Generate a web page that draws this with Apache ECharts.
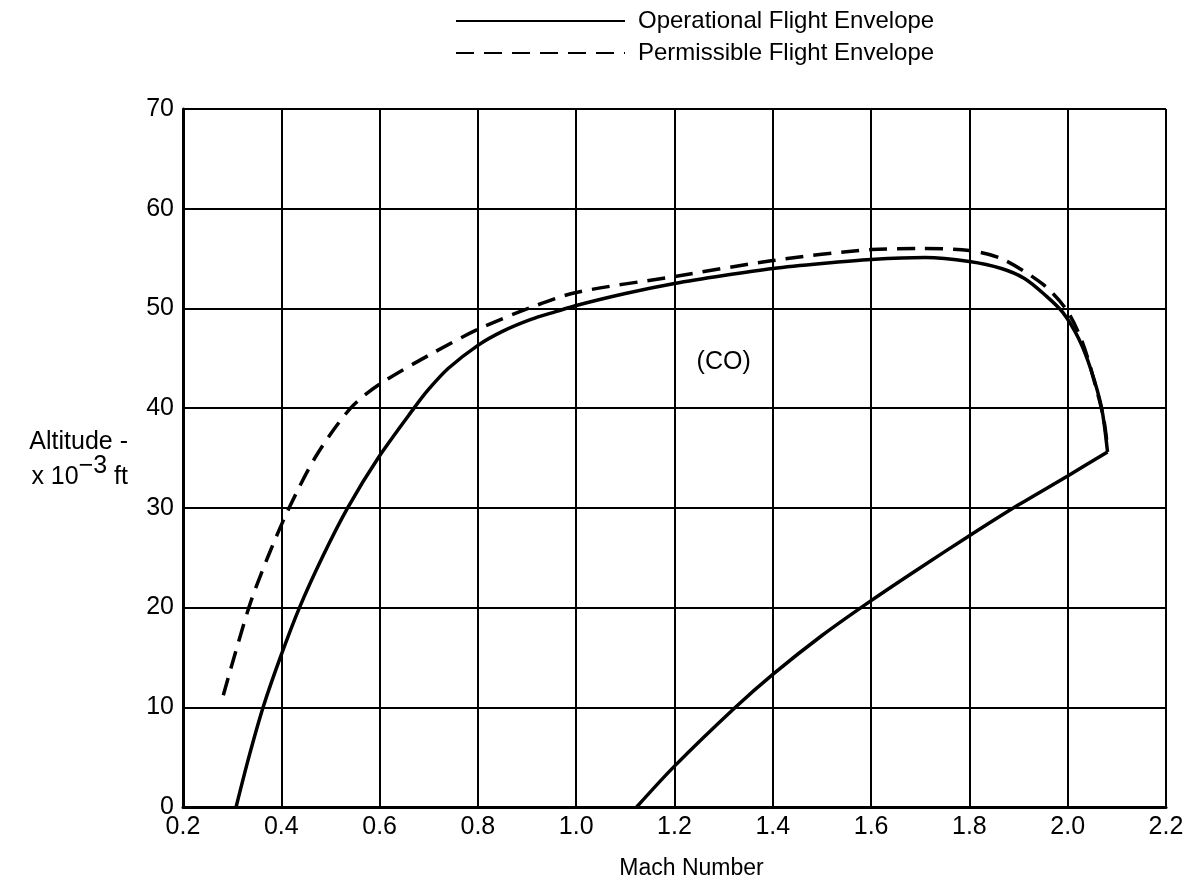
<!DOCTYPE html>
<html>
<head>
<meta charset="utf-8">
<script src="https://cdn.jsdelivr.net/npm/echarts@6/dist/echarts.min.js"></script>
<style>html,body{margin:0;padding:0;background:#fff}#c{width:1196px;height:890px}</style>
</head>
<body>
<div id="c"></div>
<script>
// Mach number ticks and altitude ticks (x 10^-3 ft)
const xTicks = [0.2,0.4,0.6,0.8,1.0,1.2,1.4,1.6,1.8,2.0,2.2];
const yTicks = [0,10,20,30,40,50,60,70];

// Operational Flight Envelope [Mach, altitude] - left/top boundary up to the corner
const operationalUpper = [
  [0.308,0],[0.334,5],[0.363,10],[0.398,15],[0.437,20],[0.483,25],[0.535,30],
  [0.597,35],[0.67,40],[0.70,41.9],[0.74,44.0],[0.80,46.3],[0.85,47.7],[0.908,48.9],
  [0.96,49.7],[1.0,50.3],[1.1,51.5],[1.2,52.5],[1.3,53.3],[1.4,54.0],[1.5,54.5],
  [1.6,54.9],[1.71,55.1],[1.8,54.7],[1.865,54.0],[1.912,53.0],[1.955,51.3],
  [1.99,49.6],[2.022,47.0],[2.047,43.9],[2.069,40],[2.081,35.6]
];
// Operational Flight Envelope - lower (right) boundary from the corner
const operationalLower = [
  [2.081,35.6],[2.0,33.2],[1.9,30.3],[1.8,27.2],[1.7,24.0],[1.6,20.7],[1.5,17.2],
  [1.4,13.3],[1.324,10],[1.2,4.1],[1.123,0]
];

// Permissible Flight Envelope [Mach, altitude]
const permissible = [
  [0.282,11.2],[0.334,20],[0.372,25],[0.416,30],[0.472,35.3],[0.541,40],[0.60,42.4],
  [0.70,45.3],[0.80,47.9],[0.908,50.1],[1.0,51.6],[1.2,53.2],[1.4,54.8],
  [1.6,55.9],[1.7,56.0],[1.8,55.8],[1.865,55.0],[1.95,52.4],[1.997,49.9],[2.03,46.6],
  [2.058,42],[2.073,39],[2.08,36.5]
];

// Region annotation
const annotation = [{ name: '(CO)', value: [1.30, 44.6] }];

const FONT = '"Liberation Sans", Arial, Helvetica, sans-serif';
const NAME_OP = 'Operational Flight Envelope';
const NAME_PE = 'Permissible Flight Envelope';
const chart = echarts.init(document.getElementById('c'), null, { renderer: 'canvas' });

const solidStyle = { color: '#000', width: 3.5, type: 'solid' };

chart.setOption({
  backgroundColor: '#fff',
  animation: false,
  textStyle: { fontFamily: FONT, color: '#000' },
  legend: {
    orient: 'vertical',
    left: 450,
    top: 4,
    itemWidth: 169,
    itemHeight: 14,
    itemGap: 8,
    itemStyle: { opacity: 0 },
    textStyle: { fontFamily: FONT, fontSize: 24, lineHeight: 24, color: '#000', padding: [0,0,0,8] },
    data: [NAME_OP, NAME_PE]
  },
  grid: { left: 183, right: 30, top: 109, bottom: 83, containLabel: false },
  xAxis: {
    type: 'value',
    min: xTicks[0],
    max: xTicks[xTicks.length - 1],
    interval: 0.2,
    name: 'Mach Number',
    nameLocation: 'middle',
    nameGap: 50,
    nameTextStyle: { fontFamily: FONT, fontSize: 23, color: '#000', padding: [0,0,0,34] },
    axisLine: { show: true, lineStyle: { color: '#000', width: 3 } },
    axisTick: { show: false },
    axisLabel: { fontFamily: FONT, fontSize: 25, color: '#000', margin: 8,
      formatter: v => v.toFixed(1) },
    splitLine: { show: true, lineStyle: { color: '#000', width: 2 } }
  },
  yAxis: {
    type: 'value',
    min: yTicks[0],
    max: yTicks[yTicks.length - 1],
    interval: 10,
    name: '{a|Altitude -}\n{b|x 10}{s|−3}{b| ft}',
    nameLocation: 'middle',
    nameRotate: 0,
    nameGap: 55,
    nameTextStyle: {
      align: 'right',
      rich: {
        a: { fontFamily: FONT, fontSize: 25, color: '#000', lineHeight: 32, align: 'left' },
        b: { fontFamily: FONT, fontSize: 25, color: '#000', lineHeight: 32, verticalAlign: 'bottom' },
        s: { fontFamily: FONT, fontSize: 25, color: '#000', lineHeight: 32, verticalAlign: 'bottom', padding: [0,0,11,0] }
      }
    },
    axisLine: { show: true, lineStyle: { color: '#000', width: 3 } },
    axisTick: { show: false },
    axisLabel: { fontFamily: FONT, fontSize: 25, color: '#000', margin: 9 },
    splitLine: { show: true, lineStyle: { color: '#000', width: 2 } }
  },
  series: [
    {
      name: NAME_OP,
      type: 'line',
      data: operationalUpper,
      smooth: 0.3,
      symbol: 'none',
      lineStyle: solidStyle,
      itemStyle: { color: '#000' },
      z: 5
    },
    {
      name: NAME_OP,
      type: 'line',
      data: operationalLower,
      smooth: 0.3,
      symbol: 'none',
      lineStyle: solidStyle,
      itemStyle: { color: '#000' },
      z: 5
    },
    {
      name: NAME_PE,
      type: 'line',
      data: permissible,
      smooth: 0.3,
      symbol: 'none',
      lineStyle: { color: '#000', width: 3.5, type: [18, 10] },
      itemStyle: { color: '#000' },
      z: 5
    },
    {
      name: 'annotation',
      type: 'scatter',
      data: annotation,
      symbolSize: 0,
      silent: true,
      label: { show: true, position: 'inside', formatter: p => p.name,
        fontFamily: FONT, fontSize: 25, color: '#000', opacity: 1 }
    }
  ]
});
</script>
</body>
</html>
